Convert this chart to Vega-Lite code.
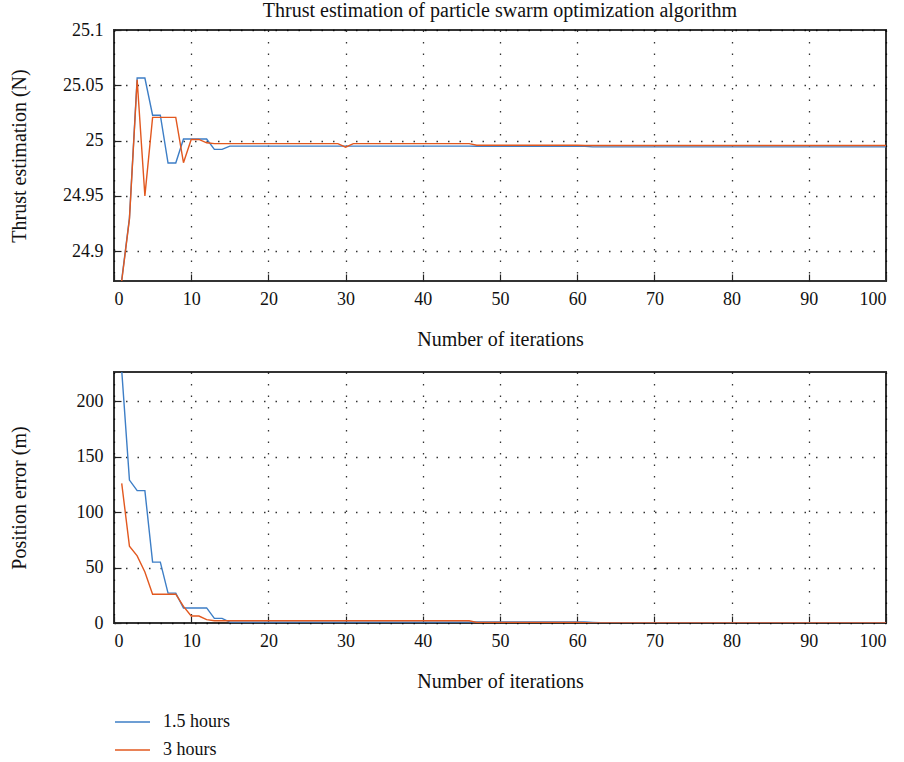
{
  "$schema": "https://vega.github.io/schema/vega-lite/v6.json",
  "background": "white",
  "padding": {"left": 8, "top": 0, "right": 15, "bottom": 5},
  "config": {
    "font": "Liberation Serif",
    "view": {"stroke": "#333", "strokeWidth": 2},
    "concat": {"spacing": 21},
    "axis": {
      "labelFont": "Liberation Serif", "labelFontSize": 18, "labelColor": "#111",
      "titleFont": "Liberation Serif", "titleFontSize": 20, "titleFontWeight": "normal", "titleColor": "#111",
      "domain": false, "tickColor": "#222", "tickSize": -7, "tickWidth": 1.2,
      "grid": true, "gridColor": "#000", "gridDash": [1.5, 10], "gridWidth": 1.3, "gridOpacity": 0.8
    },
    "axisX": {"labelPadding": 16, "titlePadding": 21},
    "axisY": {"labelPadding": 18, "titlePadding": 8},
    "title": {"font": "Liberation Serif", "fontSize": 20, "fontWeight": "normal", "color": "#111"}
  },
  "data": {"values": [
    {"iter":1,"series":"1.5 hours","thrust":24.874,"pos":228},
    {"iter":2,"series":"1.5 hours","thrust":24.930,"pos":129},
    {"iter":3,"series":"1.5 hours","thrust":25.0566,"pos":119.5},
    {"iter":4,"series":"1.5 hours","thrust":25.0566,"pos":119.5},
    {"iter":5,"series":"1.5 hours","thrust":25.0229,"pos":55},
    {"iter":6,"series":"1.5 hours","thrust":25.0229,"pos":55},
    {"iter":7,"series":"1.5 hours","thrust":24.9797,"pos":27},
    {"iter":8,"series":"1.5 hours","thrust":24.9797,"pos":27},
    {"iter":9,"series":"1.5 hours","thrust":25.0014,"pos":13.6},
    {"iter":10,"series":"1.5 hours","thrust":25.0014,"pos":13.6},
    {"iter":11,"series":"1.5 hours","thrust":25.0014,"pos":13.6},
    {"iter":12,"series":"1.5 hours","thrust":25.0014,"pos":13.6},
    {"iter":13,"series":"1.5 hours","thrust":24.992,"pos":4.2},
    {"iter":14,"series":"1.5 hours","thrust":24.992,"pos":4.2},
    {"iter":15,"series":"1.5 hours","thrust":24.995,"pos":0.8},
    {"iter":16,"series":"1.5 hours","thrust":24.995,"pos":0.8},
    {"iter":17,"series":"1.5 hours","thrust":24.995,"pos":0.8},
    {"iter":18,"series":"1.5 hours","thrust":24.995,"pos":0.8},
    {"iter":19,"series":"1.5 hours","thrust":24.995,"pos":0.8},
    {"iter":20,"series":"1.5 hours","thrust":24.995,"pos":0.8},
    {"iter":21,"series":"1.5 hours","thrust":24.995,"pos":0.8},
    {"iter":22,"series":"1.5 hours","thrust":24.995,"pos":0.8},
    {"iter":23,"series":"1.5 hours","thrust":24.995,"pos":0.8},
    {"iter":24,"series":"1.5 hours","thrust":24.995,"pos":0.8},
    {"iter":25,"series":"1.5 hours","thrust":24.995,"pos":0.8},
    {"iter":26,"series":"1.5 hours","thrust":24.995,"pos":0.8},
    {"iter":27,"series":"1.5 hours","thrust":24.995,"pos":0.8},
    {"iter":28,"series":"1.5 hours","thrust":24.995,"pos":0.8},
    {"iter":29,"series":"1.5 hours","thrust":24.995,"pos":0.8},
    {"iter":30,"series":"1.5 hours","thrust":24.995,"pos":0.8},
    {"iter":31,"series":"1.5 hours","thrust":24.995,"pos":0.8},
    {"iter":32,"series":"1.5 hours","thrust":24.995,"pos":0.8},
    {"iter":33,"series":"1.5 hours","thrust":24.995,"pos":0.8},
    {"iter":34,"series":"1.5 hours","thrust":24.995,"pos":0.8},
    {"iter":35,"series":"1.5 hours","thrust":24.995,"pos":0.8},
    {"iter":36,"series":"1.5 hours","thrust":24.995,"pos":0.8},
    {"iter":37,"series":"1.5 hours","thrust":24.995,"pos":0.8},
    {"iter":38,"series":"1.5 hours","thrust":24.995,"pos":0.8},
    {"iter":39,"series":"1.5 hours","thrust":24.995,"pos":0.8},
    {"iter":40,"series":"1.5 hours","thrust":24.995,"pos":0.8},
    {"iter":41,"series":"1.5 hours","thrust":24.995,"pos":0.8},
    {"iter":42,"series":"1.5 hours","thrust":24.995,"pos":0.8},
    {"iter":43,"series":"1.5 hours","thrust":24.995,"pos":0.8},
    {"iter":44,"series":"1.5 hours","thrust":24.995,"pos":0.8},
    {"iter":45,"series":"1.5 hours","thrust":24.995,"pos":0.8},
    {"iter":46,"series":"1.5 hours","thrust":24.995,"pos":0.8},
    {"iter":47,"series":"1.5 hours","thrust":24.9948,"pos":0.9},
    {"iter":48,"series":"1.5 hours","thrust":24.9948,"pos":0.9},
    {"iter":49,"series":"1.5 hours","thrust":24.9948,"pos":0.9},
    {"iter":50,"series":"1.5 hours","thrust":24.9948,"pos":0.9},
    {"iter":51,"series":"1.5 hours","thrust":24.9948,"pos":0.9},
    {"iter":52,"series":"1.5 hours","thrust":24.9948,"pos":0.9},
    {"iter":53,"series":"1.5 hours","thrust":24.9948,"pos":0.9},
    {"iter":54,"series":"1.5 hours","thrust":24.9948,"pos":0.9},
    {"iter":55,"series":"1.5 hours","thrust":24.9948,"pos":0.9},
    {"iter":56,"series":"1.5 hours","thrust":24.9948,"pos":0.9},
    {"iter":57,"series":"1.5 hours","thrust":24.9948,"pos":0.9},
    {"iter":58,"series":"1.5 hours","thrust":24.9948,"pos":0.9},
    {"iter":59,"series":"1.5 hours","thrust":24.9948,"pos":0.9},
    {"iter":60,"series":"1.5 hours","thrust":24.9948,"pos":0.9},
    {"iter":61,"series":"1.5 hours","thrust":24.9948,"pos":0.9},
    {"iter":62,"series":"1.5 hours","thrust":24.9943,"pos":0.6},
    {"iter":63,"series":"1.5 hours","thrust":24.9943,"pos":0.2},
    {"iter":64,"series":"1.5 hours","thrust":24.9943,"pos":0.2},
    {"iter":65,"series":"1.5 hours","thrust":24.9943,"pos":0.2},
    {"iter":66,"series":"1.5 hours","thrust":24.9943,"pos":0.2},
    {"iter":67,"series":"1.5 hours","thrust":24.9943,"pos":0.2},
    {"iter":68,"series":"1.5 hours","thrust":24.9943,"pos":0.2},
    {"iter":69,"series":"1.5 hours","thrust":24.9943,"pos":0.2},
    {"iter":70,"series":"1.5 hours","thrust":24.9943,"pos":0.2},
    {"iter":71,"series":"1.5 hours","thrust":24.9943,"pos":0.2},
    {"iter":72,"series":"1.5 hours","thrust":24.9943,"pos":0.2},
    {"iter":73,"series":"1.5 hours","thrust":24.9943,"pos":0.2},
    {"iter":74,"series":"1.5 hours","thrust":24.9943,"pos":0.2},
    {"iter":75,"series":"1.5 hours","thrust":24.9943,"pos":0.2},
    {"iter":76,"series":"1.5 hours","thrust":24.9943,"pos":0.2},
    {"iter":77,"series":"1.5 hours","thrust":24.9943,"pos":0.2},
    {"iter":78,"series":"1.5 hours","thrust":24.9943,"pos":0.2},
    {"iter":79,"series":"1.5 hours","thrust":24.9943,"pos":0.2},
    {"iter":80,"series":"1.5 hours","thrust":24.9943,"pos":0.2},
    {"iter":81,"series":"1.5 hours","thrust":24.9943,"pos":0.2},
    {"iter":82,"series":"1.5 hours","thrust":24.9943,"pos":0.2},
    {"iter":83,"series":"1.5 hours","thrust":24.9943,"pos":0.2},
    {"iter":84,"series":"1.5 hours","thrust":24.9943,"pos":0.2},
    {"iter":85,"series":"1.5 hours","thrust":24.9943,"pos":0.2},
    {"iter":86,"series":"1.5 hours","thrust":24.9943,"pos":0.2},
    {"iter":87,"series":"1.5 hours","thrust":24.9943,"pos":0.2},
    {"iter":88,"series":"1.5 hours","thrust":24.9943,"pos":0.2},
    {"iter":89,"series":"1.5 hours","thrust":24.9943,"pos":0.2},
    {"iter":90,"series":"1.5 hours","thrust":24.9943,"pos":0.2},
    {"iter":91,"series":"1.5 hours","thrust":24.9943,"pos":0.2},
    {"iter":92,"series":"1.5 hours","thrust":24.9943,"pos":0.2},
    {"iter":93,"series":"1.5 hours","thrust":24.9943,"pos":0.2},
    {"iter":94,"series":"1.5 hours","thrust":24.9943,"pos":0.2},
    {"iter":95,"series":"1.5 hours","thrust":24.9943,"pos":0.2},
    {"iter":96,"series":"1.5 hours","thrust":24.9943,"pos":0.2},
    {"iter":97,"series":"1.5 hours","thrust":24.9943,"pos":0.2},
    {"iter":98,"series":"1.5 hours","thrust":24.9943,"pos":0.2},
    {"iter":99,"series":"1.5 hours","thrust":24.9943,"pos":0.2},
    {"iter":100,"series":"1.5 hours","thrust":24.9943,"pos":0.2},
    {"iter":1,"series":"3 hours","thrust":24.873,"pos":126},
    {"iter":2,"series":"3 hours","thrust":24.929,"pos":69.4},
    {"iter":3,"series":"3 hours","thrust":25.055,"pos":60.6},
    {"iter":4,"series":"3 hours","thrust":24.950,"pos":46},
    {"iter":5,"series":"3 hours","thrust":25.021,"pos":26},
    {"iter":6,"series":"3 hours","thrust":25.021,"pos":26},
    {"iter":7,"series":"3 hours","thrust":25.021,"pos":26},
    {"iter":8,"series":"3 hours","thrust":25.021,"pos":26},
    {"iter":9,"series":"3 hours","thrust":24.980,"pos":15},
    {"iter":10,"series":"3 hours","thrust":25.001,"pos":6.3},
    {"iter":11,"series":"3 hours","thrust":25.001,"pos":6.3},
    {"iter":12,"series":"3 hours","thrust":24.998,"pos":3},
    {"iter":13,"series":"3 hours","thrust":24.9972,"pos":2},
    {"iter":14,"series":"3 hours","thrust":24.9972,"pos":2},
    {"iter":15,"series":"3 hours","thrust":24.9972,"pos":2},
    {"iter":16,"series":"3 hours","thrust":24.9972,"pos":2},
    {"iter":17,"series":"3 hours","thrust":24.9972,"pos":2},
    {"iter":18,"series":"3 hours","thrust":24.9972,"pos":2},
    {"iter":19,"series":"3 hours","thrust":24.9972,"pos":2},
    {"iter":20,"series":"3 hours","thrust":24.9972,"pos":2},
    {"iter":21,"series":"3 hours","thrust":24.9972,"pos":2},
    {"iter":22,"series":"3 hours","thrust":24.9972,"pos":2},
    {"iter":23,"series":"3 hours","thrust":24.9972,"pos":2},
    {"iter":24,"series":"3 hours","thrust":24.9972,"pos":2},
    {"iter":25,"series":"3 hours","thrust":24.9972,"pos":2},
    {"iter":26,"series":"3 hours","thrust":24.9972,"pos":2},
    {"iter":27,"series":"3 hours","thrust":24.9972,"pos":2},
    {"iter":28,"series":"3 hours","thrust":24.9972,"pos":2},
    {"iter":29,"series":"3 hours","thrust":24.9972,"pos":2},
    {"iter":30,"series":"3 hours","thrust":24.994,"pos":2},
    {"iter":31,"series":"3 hours","thrust":24.9972,"pos":2},
    {"iter":32,"series":"3 hours","thrust":24.9972,"pos":2},
    {"iter":33,"series":"3 hours","thrust":24.9972,"pos":2},
    {"iter":34,"series":"3 hours","thrust":24.9972,"pos":2},
    {"iter":35,"series":"3 hours","thrust":24.9972,"pos":2},
    {"iter":36,"series":"3 hours","thrust":24.9972,"pos":2},
    {"iter":37,"series":"3 hours","thrust":24.9972,"pos":2},
    {"iter":38,"series":"3 hours","thrust":24.9972,"pos":2},
    {"iter":39,"series":"3 hours","thrust":24.9972,"pos":2},
    {"iter":40,"series":"3 hours","thrust":24.9972,"pos":2},
    {"iter":41,"series":"3 hours","thrust":24.9972,"pos":2},
    {"iter":42,"series":"3 hours","thrust":24.9972,"pos":2},
    {"iter":43,"series":"3 hours","thrust":24.9972,"pos":2},
    {"iter":44,"series":"3 hours","thrust":24.9972,"pos":2},
    {"iter":45,"series":"3 hours","thrust":24.9972,"pos":2},
    {"iter":46,"series":"3 hours","thrust":24.9972,"pos":2},
    {"iter":47,"series":"3 hours","thrust":24.9958,"pos":0.5},
    {"iter":48,"series":"3 hours","thrust":24.9958,"pos":0.5},
    {"iter":49,"series":"3 hours","thrust":24.9958,"pos":0.5},
    {"iter":50,"series":"3 hours","thrust":24.9958,"pos":0.5},
    {"iter":51,"series":"3 hours","thrust":24.9958,"pos":0.5},
    {"iter":52,"series":"3 hours","thrust":24.9958,"pos":0.5},
    {"iter":53,"series":"3 hours","thrust":24.9958,"pos":0.5},
    {"iter":54,"series":"3 hours","thrust":24.9958,"pos":0.5},
    {"iter":55,"series":"3 hours","thrust":24.9958,"pos":0.5},
    {"iter":56,"series":"3 hours","thrust":24.9958,"pos":0.5},
    {"iter":57,"series":"3 hours","thrust":24.9958,"pos":0.5},
    {"iter":58,"series":"3 hours","thrust":24.9958,"pos":0.5},
    {"iter":59,"series":"3 hours","thrust":24.9958,"pos":0.5},
    {"iter":60,"series":"3 hours","thrust":24.9958,"pos":0.5},
    {"iter":61,"series":"3 hours","thrust":24.9955,"pos":0.3},
    {"iter":62,"series":"3 hours","thrust":24.9955,"pos":0.1},
    {"iter":63,"series":"3 hours","thrust":24.9955,"pos":0.1},
    {"iter":64,"series":"3 hours","thrust":24.9955,"pos":0.1},
    {"iter":65,"series":"3 hours","thrust":24.9955,"pos":0.1},
    {"iter":66,"series":"3 hours","thrust":24.9955,"pos":0.1},
    {"iter":67,"series":"3 hours","thrust":24.9955,"pos":0.1},
    {"iter":68,"series":"3 hours","thrust":24.9955,"pos":0.1},
    {"iter":69,"series":"3 hours","thrust":24.9955,"pos":0.1},
    {"iter":70,"series":"3 hours","thrust":24.9955,"pos":0.1},
    {"iter":71,"series":"3 hours","thrust":24.9955,"pos":0.1},
    {"iter":72,"series":"3 hours","thrust":24.9955,"pos":0.1},
    {"iter":73,"series":"3 hours","thrust":24.9955,"pos":0.1},
    {"iter":74,"series":"3 hours","thrust":24.9955,"pos":0.1},
    {"iter":75,"series":"3 hours","thrust":24.9955,"pos":0.1},
    {"iter":76,"series":"3 hours","thrust":24.9955,"pos":0.1},
    {"iter":77,"series":"3 hours","thrust":24.9955,"pos":0.1},
    {"iter":78,"series":"3 hours","thrust":24.9955,"pos":0.1},
    {"iter":79,"series":"3 hours","thrust":24.9955,"pos":0.1},
    {"iter":80,"series":"3 hours","thrust":24.9955,"pos":0.1},
    {"iter":81,"series":"3 hours","thrust":24.9955,"pos":0.1},
    {"iter":82,"series":"3 hours","thrust":24.9955,"pos":0.1},
    {"iter":83,"series":"3 hours","thrust":24.9955,"pos":0.1},
    {"iter":84,"series":"3 hours","thrust":24.9955,"pos":0.1},
    {"iter":85,"series":"3 hours","thrust":24.9955,"pos":0.1},
    {"iter":86,"series":"3 hours","thrust":24.9955,"pos":0.1},
    {"iter":87,"series":"3 hours","thrust":24.9955,"pos":0.1},
    {"iter":88,"series":"3 hours","thrust":24.9955,"pos":0.1},
    {"iter":89,"series":"3 hours","thrust":24.9955,"pos":0.1},
    {"iter":90,"series":"3 hours","thrust":24.9955,"pos":0.1},
    {"iter":91,"series":"3 hours","thrust":24.9955,"pos":0.1},
    {"iter":92,"series":"3 hours","thrust":24.9955,"pos":0.1},
    {"iter":93,"series":"3 hours","thrust":24.9955,"pos":0.1},
    {"iter":94,"series":"3 hours","thrust":24.9955,"pos":0.1},
    {"iter":95,"series":"3 hours","thrust":24.9955,"pos":0.1},
    {"iter":96,"series":"3 hours","thrust":24.9955,"pos":0.1},
    {"iter":97,"series":"3 hours","thrust":24.9955,"pos":0.1},
    {"iter":98,"series":"3 hours","thrust":24.9955,"pos":0.1},
    {"iter":99,"series":"3 hours","thrust":24.9955,"pos":0.1},
    {"iter":100,"series":"3 hours","thrust":24.9955,"pos":0.1}
  ]},
  "vconcat": [
    {
      "title": {"text": "Thrust estimation of particle swarm optimization algorithm", "offset": 0},
      "width": 772, "height": 251,
      "mark": {"type": "line", "strokeWidth": 1.4, "clip": true},
      "encoding": {
        "x": {"field": "iter", "type": "quantitative", "scale": {"domain": [0, 100], "nice": false},
              "axis": {"values": [0,10,20,30,40,50,60,70,80,90,100], "title": "Number of iterations"}},
        "y": {"field": "thrust", "type": "quantitative", "scale": {"domain": [24.873, 25.1], "nice": false, "zero": false},
              "axis": {"values": [24.9, 24.95, 25, 25.05, 25.1], "format": "~g", "title": "Thrust estimation (N)", "minExtent": 77, "maxExtent": 77}},
        "color": {"field": "series", "type": "nominal",
                  "scale": {"domain": ["1.5 hours", "3 hours"], "range": ["#3D7EC6", "#E2581F"]},
                  "legend": {"title": null, "orient": "bottom", "direction": "vertical", "symbolType": "stroke",
                             "symbolSize": 1225, "symbolStrokeWidth": 1.5, "labelFont": "Liberation Serif",
                             "labelFontSize": 18, "labelColor": "#111", "clipHeight": 26, "labelOffset": 12, "offset": 17}}
      }
    },
    {
      "width": 772, "height": 251,
      "mark": {"type": "line", "strokeWidth": 1.4, "clip": true},
      "encoding": {
        "x": {"field": "iter", "type": "quantitative", "scale": {"domain": [0, 100], "nice": false},
              "axis": {"values": [0,10,20,30,40,50,60,70,80,90,100], "title": "Number of iterations"}},
        "y": {"field": "pos", "type": "quantitative", "scale": {"domain": [0, 226.6], "nice": false},
              "axis": {"values": [0, 50, 100, 150, 200], "title": "Position error (m)", "minExtent": 77, "maxExtent": 77}},
        "color": {"field": "series", "type": "nominal",
                  "scale": {"domain": ["1.5 hours", "3 hours"], "range": ["#3D7EC6", "#E2581F"]}}
      }
    }
  ]
}
